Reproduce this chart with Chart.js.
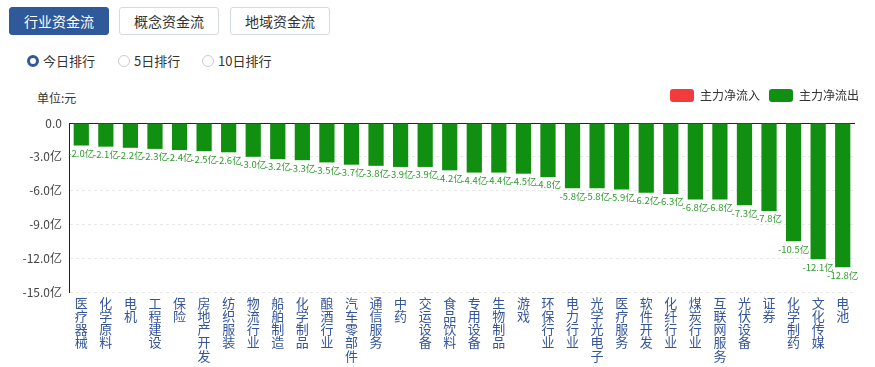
<!DOCTYPE html>
<html>
<head>
    <meta charset="utf-8">
    <title>行业资金流</title>
    <script src="https://cdn.jsdelivr.net/npm/chart.js"></script>
    <style>
        body { margin: 0; width: 875px; height: 367px; background: #fff; font-family: "Noto Sans CJK SC", sans-serif; position: relative; overflow: hidden; }
        .tabs { position: absolute; left: 9px; top: 7px; }
        .tab { position: absolute; top: 0; height: 28px; line-height: 27px; width: 100px; text-align: center; font-size: 14px; color: #333; border: 1px solid #d4d9e2; border-radius: 3px; box-sizing: border-box; background: #fff; }
        .tab.active { background: #30599a; color: #fff; border-color: #30599a; }
        .radios { position: absolute; top: 52px; left: 0; font-size: 13px; color: #333; }
        .radio { position: absolute; white-space: nowrap; line-height: 18px; }
        .radio i { position: absolute; left: -16px; top: 3px; width: 12px; height: 12px; border-radius: 50%; border: 1px solid #ccc; box-sizing: border-box; }
        .radio.on i { border: 3.5px solid #30599a; }
        .unit { position: absolute; left: 37px; top: 89px; font-size: 12px; color: #333; }
        .box { position: absolute; left: 0; top: 80px; width: 875px; height: 287px; }
    </style>
</head>
<body>
    <div class="tabs">
        <div class="tab active" style="left:0">行业资金流</div>
        <div class="tab" style="left:110px">概念资金流</div>
        <div class="tab" style="left:221px">地域资金流</div>
    </div>
    <div class="radios">
        <span class="radio on" style="left:43px"><i></i>今日排行</span>
        <span class="radio" style="left:134px"><i></i>5日排行</span>
        <span class="radio" style="left:218px"><i></i>10日排行</span>
    </div>
    <div class="unit">单位:元</div>
    <div class="box"><canvas id="flowChart"></canvas></div>

<script>
    // 行业名称
    const industries = ['医疗器械', '化学原料', '电机', '工程建设', '保险', '房地产开发', '纺织服装', '物流行业',
        '船舶制造', '化学制品', '酿酒行业', '汽车零部件', '通信服务', '中药', '交运设备', '食品饮料',
        '专用设备', '生物制品', '游戏', '环保行业', '电力行业', '光学光电子', '医疗服务', '软件开发',
        '化纤行业', '煤炭行业', '互联网服务', '光伏设备', '证券', '化学制药', '文化传媒', '电池'];
    // 主力净流出（亿）
    const outflow = [-2.0, -2.1, -2.2, -2.3, -2.4, -2.5, -2.6, -3.0, -3.2, -3.3, -3.5, -3.7, -3.8, -3.9, -3.9, -4.2,
        -4.4, -4.4, -4.5, -4.8, -5.8, -5.8, -5.9, -6.2, -6.3, -6.8, -6.8, -7.3, -7.8, -10.5, -12.1, -12.8];
    // 主力净流入（今日无）
    const inflow = industries.map(() => null);
    const yTicks = [0, -3, -6, -9, -12, -15];

    // 竖排标签：每个字一行
    const verticalLabels = industries.map(name => name.split(''));

    // 图例下方多留点空，并整体右移一点
    const legendSpace = {
        id: 'legendSpace',
        beforeInit(chart) {
            const legend = chart.legend;
            const fit = legend.fit;
            legend.fit = function() {
                fit.bind(this)();
                this.height += 11;
            };
            const draw = legend.draw;
            legend.draw = function() {
                this.ctx.save();
                this.ctx.translate(13, 0);
                draw.call(this);
                this.ctx.restore();
            };
        }
    };

    // 0 轴黑线
    const zeroLine = {
        id: 'zeroLine',
        beforeDatasetsDraw(chart) {
            const { ctx, chartArea, scales } = chart;
            const y = Math.round(scales.y.getPixelForValue(0)) + 0.5;
            ctx.save();
            ctx.strokeStyle = '#222';
            ctx.lineWidth = 1;
            ctx.beginPath();
            ctx.moveTo(chartArea.left, y);
            ctx.lineTo(chartArea.right, y);
            ctx.stroke();
            ctx.restore();
        }
    };

    // 柱子下方数值
    const valueLabels = {
        id: 'valueLabels',
        afterDatasetsDraw(chart) {
            const ctx = chart.ctx;
            const meta = chart.getDatasetMeta(1);
            ctx.save();
            ctx.font = '9.5px "Noto Sans CJK SC"';
            ctx.fillStyle = '#2f9a2f';
            ctx.textAlign = 'center';
            ctx.textBaseline = 'top';
            meta.data.forEach((bar, i) => {
                ctx.fillText(outflow[i].toFixed(1) + '亿', bar.x, bar.y + 3);
            });
            ctx.restore();
        }
    };

    const ctx = document.getElementById('flowChart').getContext('2d');
    const chart = new Chart(ctx, {
        type: 'bar',
        data: {
            labels: verticalLabels,
            datasets: [{
                label: '主力净流入',
                data: inflow,
                backgroundColor: '#f23c3c'
            }, {
                label: '主力净流出',
                data: outflow,
                backgroundColor: '#118f11'
            }]
        },
        options: {
            responsive: true,
            maintainAspectRatio: false,
            animation: false,
            grouped: false,
            barPercentage: 0.62,
            categoryPercentage: 1,
            layout: { padding: { left: 0, right: 20, top: 0, bottom: 0 } },
            plugins: {
                tooltip: { enabled: false },
                legend: {
                    position: 'top',
                    align: 'end',
                    labels: {
                        boxWidth: 24,
                        boxHeight: 13,
                        padding: 9,
                        color: '#333',
                        font: { size: 12, family: '"Noto Sans CJK SC"' },
                        useBorderRadius: true,
                        borderRadius: 3
                    }
                }
            },
            scales: {
                x: {
                    grid: { display: false, drawTicks: false },
                    border: { display: false },
                    afterFit(scale) { scale.height = 75; },
                    ticks: {
                        autoSkip: false,
                        maxRotation: 0,
                        minRotation: 0,
                        padding: 4,
                        color: '#34559a',
                        font: { size: 13, family: '"Noto Sans CJK SC"', lineHeight: 1.02 }
                    }
                },
                y: {
                    min: -15,
                    max: 0,
                    afterFit(scale) { scale.width = 69; },
                    afterBuildTicks(scale) { scale.ticks = yTicks.map(v => ({ value: v })); },
                    grid: {
                        drawTicks: false,
                        color: ctx => ctx.tick && ctx.tick.value === 0 ? 'rgba(0,0,0,0)' : '#e8e8e8'
                    },
                    border: { display: true, color: '#222', width: 1, dash: [3, 3] },
                    ticks: {
                        padding: 7,
                        color: '#444',
                        font: { size: 12, family: '"Noto Sans CJK SC"' },
                        callback: v => v === 0 ? '0.0' : v.toFixed(1) + '亿'
                    }
                }
            }
        },
        plugins: [legendSpace, zeroLine, valueLabels]
    });
</script>
</body>
</html>
